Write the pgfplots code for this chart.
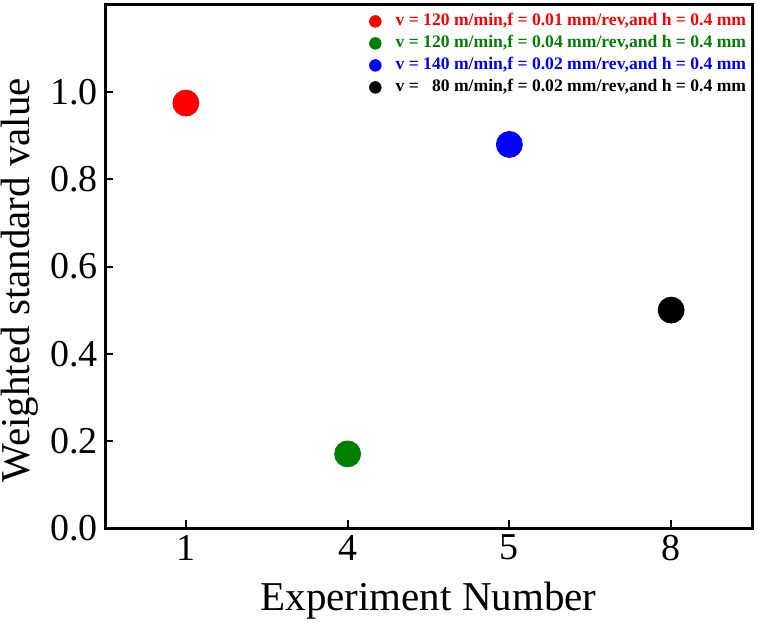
\documentclass[border=0pt]{standalone}
\usepackage{pgfplots}
\pgfplotsset{compat=1.18}
\usepackage{fontspec}
\setmainfont{Liberation Serif}
\definecolor{mygreen}{RGB}{0,128,0}
\newcommand{\entry}[2]{\hspace{6pt}\textcolor{#1}{#2}}
\begin{document}
\begin{tikzpicture}
\useasboundingbox (0,0) rectangle (379.5pt,311pt);
\begin{axis}[
  at={(52.5pt,47pt)}, anchor=south west,
  scale only axis,
  width=323.5pt, height=261.5pt,
  xmin=-0.5, xmax=3.5,
  ymin=0, ymax=1.2,
  xtick={0,1,2,3},
  xticklabels={1,4,5,8},
  ytick={0,0.2,0.4,0.6,0.8,1.0},
  yticklabel style={/pgf/number format/fixed,/pgf/number format/fixed zerofill,/pgf/number format/precision=1},
  /pgf/number format/assume math mode=true,
  tick align=inside,
  xtick pos=bottom, ytick pos=left,
  major tick length=4pt,
  every tick/.style={black, line width=1pt},
  axis line style={line width=1.5pt},
  tick label style={font=\fontsize{19}{22}\selectfont},
  label style={font=\fontsize{20.5}{24}\selectfont},
  xlabel={Experiment Number},
  ylabel={Weighted standard value},
  xlabel style={at={(axis description cs:0.5,-0.157)}, anchor=base},
  ylabel style={at={(axis description cs:-0.116,0.474)}, anchor=base},
  legend style={at={(rel axis cs:1,1)}, anchor=north east, xshift=1.5pt, yshift=-0.5pt,
    draw=none, fill=none,
    font=\fontsize{8.8}{11}\selectfont\bfseries,
    row sep=0pt,
    nodes={text height=6.5pt, text depth=2pt, inner sep=1.25pt}},
  legend cell align=left,
  legend image post style={mark size=2.9pt},
]
\addplot[only marks, mark=*, mark size=6.5pt, color=red] coordinates {(0,0.975)};
\addlegendentry{\entry{red}{v = 120 m/min,f = 0.01 mm/rev,and h = 0.4 mm}}
\addplot[only marks, mark=*, mark size=6.5pt, color=mygreen] coordinates {(1,0.17)};
\addlegendentry{\entry{mygreen}{v = 120 m/min,f = 0.04 mm/rev,and h = 0.4 mm}}
\addplot[only marks, mark=*, mark size=6.5pt, color=blue] coordinates {(2,0.88)};
\addlegendentry{\entry{blue}{v = 140 m/min,f = 0.02 mm/rev,and h = 0.4 mm}}
\addplot[only marks, mark=*, mark size=6.5pt, color=black] coordinates {(3,0.50)};
\addlegendentry{\entry{black}{v = \phantom{1}80 m/min,f = 0.02 mm/rev,and h = 0.4 mm}}
\end{axis}
\end{tikzpicture}
\end{document}
